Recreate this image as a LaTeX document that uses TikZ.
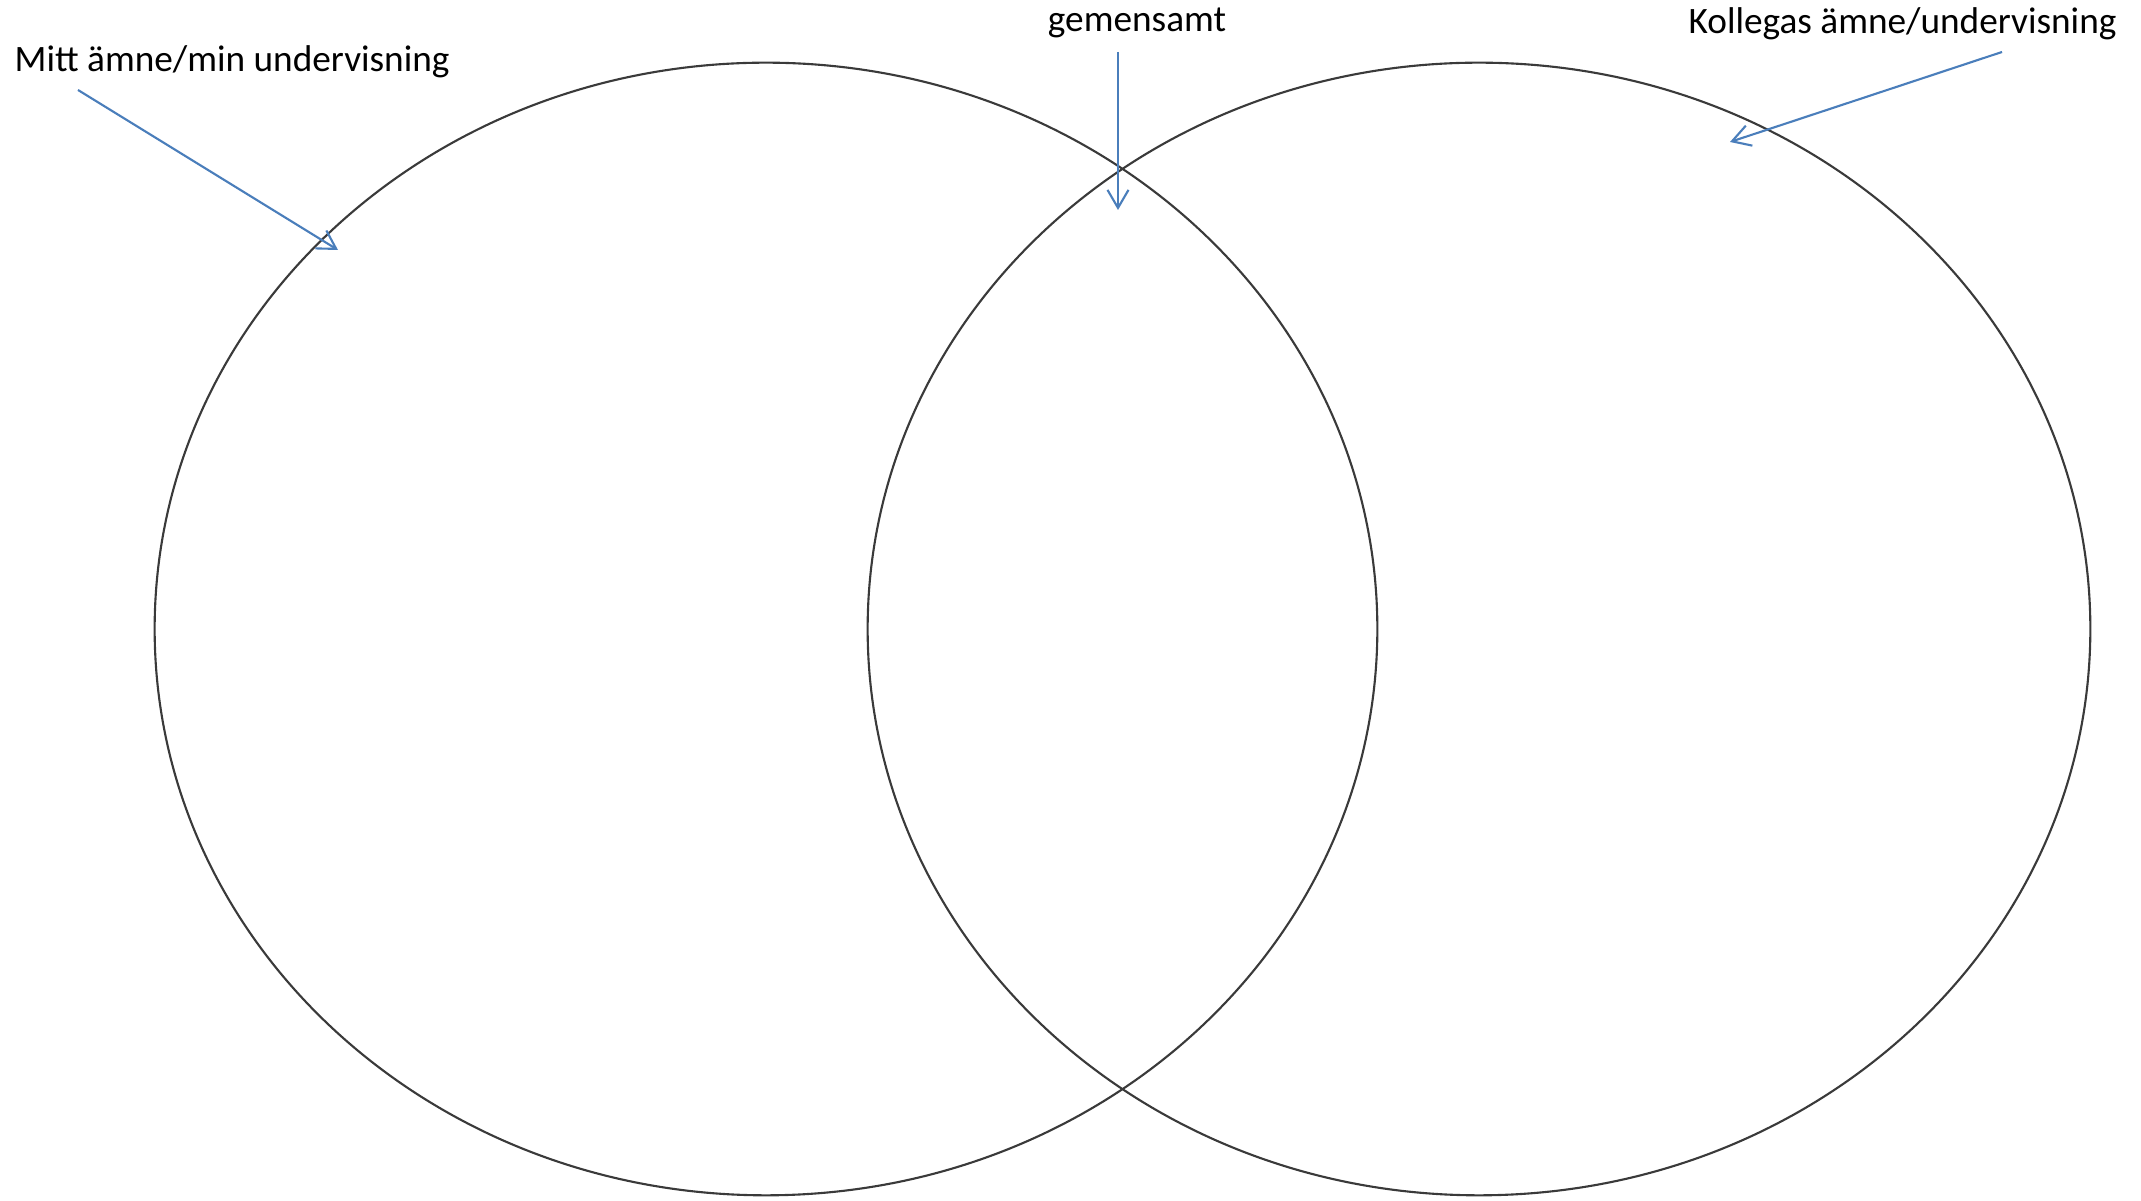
\documentclass[tikz,border=0pt]{standalone}
\usepackage{fontspec}
\setmainfont{Carlito}
\usetikzlibrary{arrows.meta}
\definecolor{ringgray}{HTML}{3A3A3A}
\definecolor{arrowblue}{HTML}{4A7EBB}
\begin{document}
\begin{tikzpicture}[x=0.01cm,y=-0.01cm,
  ring/.style={draw=ringgray,line width=0.6pt},
  pointer/.style={draw=arrowblue,line width=0.6pt,-{Straight Barb[length=0.18cm,width=0.21cm,line width=0.6pt]}},
  label/.style={inner sep=0pt,font=\fontsize{10.6pt}{12pt}\selectfont}]
\useasboundingbox[fill=white] (0,0) rectangle (2141,1201);
\draw[ring] (766,629) ellipse [x radius=6.11cm, y radius=5.66cm];
\draw[ring] (1479,629) ellipse [x radius=6.11cm, y radius=5.66cm];
\node[label,anchor=base west] (mitt) at (14,72) {Mitt ämne/min undervisning};
\node[label,anchor=base] (gem) at (1137,32) {gemensamt};
\node[label,anchor=base west] (koll) at (1688,34) {Kollegas ämne/undervisning};
\coordinate (a1s) at (78,90);
\coordinate (a1e) at (338,250);
\coordinate (a2s) at (1118,52);
\coordinate (a2e) at (1118,210);
\coordinate (a3s) at (2002,52);
\coordinate (a3e) at (1730,142);
\draw[pointer] (a1s) -- (a1e);
\draw[pointer] (a2s) -- (a2e);
\draw[pointer] (a3s) -- (a3e);
\end{tikzpicture}
\end{document}
